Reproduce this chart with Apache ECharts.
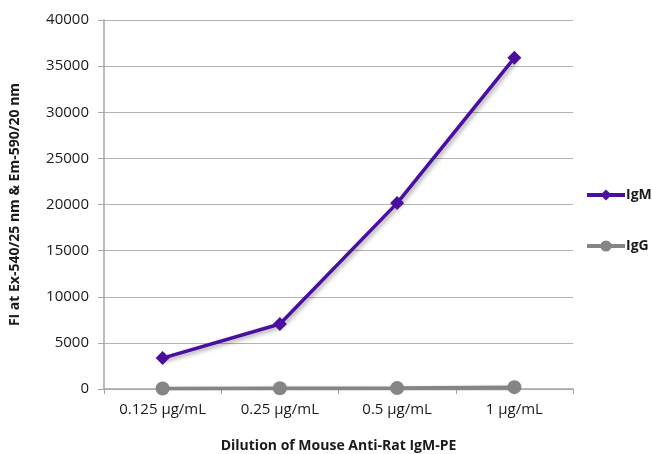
<!DOCTYPE html>
<html><head><meta charset="utf-8">
<script src="https://cdn.jsdelivr.net/npm/echarts@6/dist/echarts.min.js"></script>
<style>html,body{margin:0;padding:0;background:#fff}#c{width:652px;height:454px}</style>
</head><body><div id="c"></div>
<script>
const categories = ['0.125 µg/mL', '0.25 µg/mL', '0.5 µg/mL', '1 µg/mL'];
const igmValues = [3350, 7050, 20150, 35900];
const iggValues = [50, 80, 100, 200];
const yTicks = {min: 0, max: 40000, interval: 5000};

const chart = echarts.init(document.getElementById('c'));
const font = 'Open Sans';
chart.setOption({
  animation: false,
  grid: {left: 104, right: 79, top: 20, bottom: 65, outerBoundsMode: 'none', containLabel: false},
  legend: {
    orient: 'vertical', left: 580, top: 183, itemGap: 37, itemWidth: 38, itemHeight: 14,
    lineStyle: {width: 4},
    textStyle: {fontFamily: font, fontSize: 14, fontWeight: 'bold', color: '#1a1a1a', padding: [0, 0, 0, -4]},
    data: ['IgM', 'IgG']
  },
  xAxis: {
    type: 'category', data: categories, boundaryGap: true,
    axisLine: {lineStyle: {color: '#a6a6a6', width: 1.5}},
    axisTick: {show: true, length: 5, lineStyle: {color: '#a6a6a6'}},
    axisLabel: {fontFamily: font, fontSize: 15, color: '#1a1a1a', margin: 13},
    name: 'Dilution of Mouse Anti-Rat IgM-PE', nameLocation: 'middle', nameGap: 50,
    nameTextStyle: {fontFamily: font, fontSize: 14, fontWeight: 'bold', color: '#1a1a1a'}
  },
  yAxis: {
    type: 'value', min: yTicks.min, max: yTicks.max, interval: yTicks.interval,
    axisLine: {show: true, lineStyle: {color: '#a6a6a6', width: 1.5}},
    axisTick: {show: true, inside: false, length: 6, lineStyle: {color: '#a6a6a6'}},
    splitLine: {lineStyle: {color: '#b3b3b3', width: 1.2}},
    axisLabel: {fontFamily: font, fontSize: 15, color: '#1a1a1a', margin: 15, formatter: v => String(v)},
    name: 'FI at Ex-540/25 nm & Em-590/20 nm', nameLocation: 'middle', nameGap: 82,
    nameTextStyle: {fontFamily: font, fontSize: 14, fontWeight: 'bold', color: '#1a1a1a'}
  },
  series: [
    {
      name: 'IgM', type: 'line', data: igmValues, symbol: 'diamond', symbolSize: 14,
      lineStyle: {color: '#4a0fa0', width: 3.5, shadowColor: 'rgba(0,0,0,0.35)', shadowBlur: 4, shadowOffsetX: 2, shadowOffsetY: 2},
      itemStyle: {color: '#4a0fa0'}
    },
    {
      name: 'IgG', type: 'line', data: iggValues, symbol: 'circle', symbolSize: 14,
      lineStyle: {color: '#858585', width: 3.5, shadowColor: 'rgba(0,0,0,0.3)', shadowBlur: 4, shadowOffsetX: 2, shadowOffsetY: 2},
      itemStyle: {color: '#858585'}
    }
  ]
});
</script></body></html>
